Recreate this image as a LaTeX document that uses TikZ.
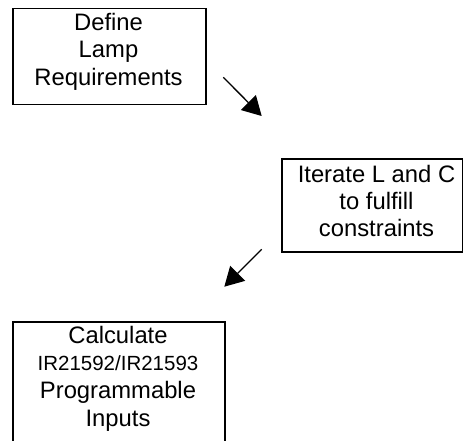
\documentclass[tikz,border=0pt]{standalone}
\usepackage{fontspec}
\setmainfont{Liberation Sans}
\usetikzlibrary{arrows.meta}
\begin{document}
\begin{tikzpicture}[x=1pt,y=-1pt,
  box/.style={draw=black,line width=1.5pt,inner sep=0pt,anchor=north west},
  txt/.style={anchor=base,inner sep=0pt,font=\fontsize{23.8}{27}\selectfont},
  small/.style={anchor=base,inner sep=0pt,font=\fontsize{20.5}{24}\selectfont},
  flow/.style={line width=1.3pt,-{Triangle[length=19pt,width=21pt]}}]
\useasboundingbox (0,0) rectangle (463,440);
\fill[white] (0,0) rectangle (463,440);
% boxes
\node[box,minimum width=193pt,minimum height=96pt] (b1) at (12,7.5) {};
\node[box,minimum width=181pt,minimum height=93pt] (b2) at (281,158) {};
\node[box,minimum width=212pt,minimum height=140pt] (b3) at (12,321) {};
% texts
\node[txt] (t11) at (108.5,30.7) {Define};
\node[txt] (t12) at (108.5,57.9) {Lamp};
\node[txt] (t13) at (108.5,85) {Requirements};
\node[txt] (t21) at (376.5,182.3) {Iterate L and C};
\node[txt] (t22) at (376.5,209.3) {to fulfill};
\node[txt] (t23) at (376.5,236.2) {constraints};
\node[txt] (t31) at (118,343.3) {Calculate};
\node[small] (t32) at (118,370.7) {IR21592/IR21593};
\node[txt] (t33) at (118,398.3) {Programmable};
\node[txt] (t34) at (118,426.5) {Inputs};
% arrows
\coordinate (a1s) at (223.3,77.3);
\coordinate (a1e) at (261.7,116);
\coordinate (a2s) at (261.7,249.3);
\coordinate (a2e) at (224.3,286.7);
\draw[flow] (a1s) -- (a1e);
\draw[flow] (a2s) -- (a2e);
\end{tikzpicture}
\end{document}
